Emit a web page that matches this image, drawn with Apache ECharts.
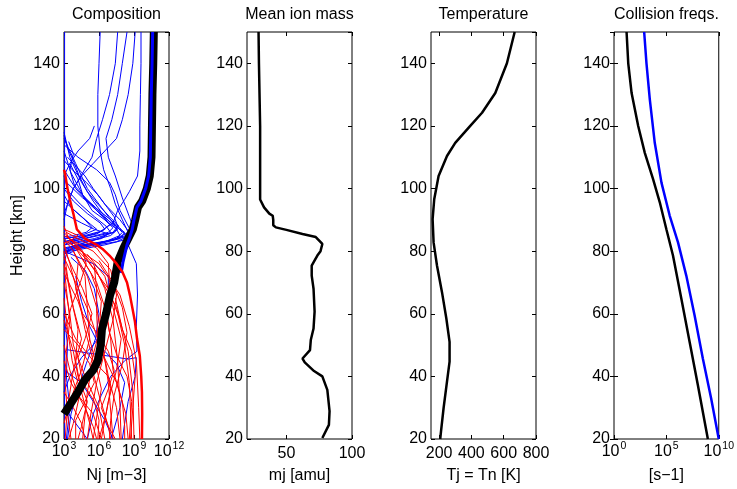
<!DOCTYPE html>
<html><head><meta charset="utf-8">
<script src="https://cdn.jsdelivr.net/npm/echarts@6/dist/echarts.min.js"></script>
<style>html,body{margin:0;padding:0;background:#fff}#c{width:737px;height:489px}</style>
</head><body><div id="c"></div>
<script>
// ---------- DATA ----------
const panelTitles = ['Composition', 'Mean ion mass', 'Temperature', 'Collision freqs.'];
const xNames = ['Nj [m\u22123]', 'mj [amu]', 'Tj = Tn [K]', '[s\u22121]'];
const heightRange = [20, 150];
const heightTickStep = 20;
const compExpTicks = [3, 6, 9, 12];        // log10 Nj tick exponents
const massTicks = [50, 100];
const tempTicks = [200, 400, 600, 800];
const collExpTicks = [0, 5, 10];          // log10 freq tick exponents

// Composition panel: [log10 Nj, height km]
const totalDensity = [[10.7,150],[10.65,140],[10.58,130],[10.54,120],[10.5,110],[10.35,104],[10.1,100],[9.7,96],[9.34,94],[9.1,90],[8.9,87],[8.5,84],[8.1,81],[7.6,76.6],[7.3,70],[6.94,65.8],[6.6,60],[6.25,55],[6.15,50],[5.9,45],[5.5,42],[4.8,39],[4.2,35],[3.35,30],[3.0,28]];
const electronDensity = [[10.6,150],[10.55,140],[10.48,130],[10.44,120],[10.4,110],[10.25,104],[10.0,100],[9.6,96],[9.25,94],[9.0,90],[8.85,87],[8.6,84],[8.4,82],[8.06,76.6],[7.9,73]];
const negIonEnvelope = [[3.0,106],[3.08,105],[3.3,100],[3.5,96.5],[3.8,92],[4.1,87],[4.8,84],[5.8,82],[6.3,80.7],[6.9,78.6],[7.5,76],[8.0,73.4],[8.4,70],[8.66,65.8],[9.08,57.5],[9.26,52],[9.5,46.5],[9.62,40],[9.68,35],[9.7,28],[9.68,20]];

const blueThinLines = [
  [[3.05,150],[3.05,20]],
  [[6.1,150],[6.0,140],[5.9,130],[5.9,120],[6.1,112],[6.4,106],[7.0,100],[7.4,95],[8.0,90],[8.5,86],[7.2,83.5],[5.0,82],[3.2,80],[3.0,79]],
  [[7.6,150],[7.4,140],[6.9,130],[6.3,122],[5.8,116],[5.4,110],[4.6,105],[3.8,100],[3.3,95],[3.0,90]],
  [[8.4,150],[8.0,140],[7.6,130],[7.1,122],[6.6,116],[6.8,110],[7.4,104],[8.0,97],[8.6,91],[9.0,87],[8.6,84],[6.5,82],[3.5,80],[3.0,79]],
  [[9.1,150],[8.9,140],[8.5,130],[8.0,122],[7.5,116],[6.5,112],[5.5,108],[4.5,104],[3.8,100],[3.3,95],[3.0,92]],
  [[9.6,150],[9.6,140],[9.55,130],[9.5,120],[9.5,112],[9.3,104],[8.6,99],[8.2,96.5],[7.6,93],[7.2,89],[6.0,86],[4.2,84],[3.0,83]],
  [[3.0,118],[3.5,110],[4.5,102],[5.5,96],[6.5,91],[7.5,87],[7.8,85],[6.5,83],[4.5,81],[3.2,79],[3.0,76]],
  [[3.0,116],[4.0,108],[5.0,100],[6.2,94],[7.2,89],[8.0,86],[7.5,84],[5.8,82.5],[3.8,81],[3.0,79]],
  [[3.0,112],[3.6,105],[4.6,98],[5.8,93],[6.8,89],[7.6,87],[7.0,85],[5.0,83],[3.3,81],[3.0,80]],
  [[3.3,110],[4.8,104],[5.5,100],[6.5,95],[7.8,90],[8.5,86.5],[8.2,84.5],[6.5,83],[4.5,82],[3.0,80]],
  [[3.0,106],[4.0,100],[5.2,95],[6.4,91],[7.4,88],[8.2,86],[7.8,84],[6.2,82.5],[4.0,81.5],[3.0,80.5]],
  [[3.0,104],[3.4,99],[4.4,95],[5.6,91],[6.6,88],[7.0,86],[6.0,84],[4.2,82],[3.0,81]],
  [[3.5,108],[4.2,103],[4.6,98],[5.4,93],[6.5,90],[7.2,87.5],[6.8,86],[5.2,84.5],[3.5,83],[3.0,82]],
  [[3.0,100],[3.8,96],[5.0,92],[6.1,89],[6.5,87],[5.8,85.5],[4.0,84],[3.0,83]],
  [[3.0,96],[4.2,92],[5.3,88.5],[5.8,87],[4.5,85],[3.2,84],[3.0,83.5]],
  [[3.0,114],[4.2,110],[5.8,106],[6.9,102],[7.4,98],[7.8,93],[8.5,88],[8.9,85.5],[7.5,83],[5.0,81.5],[3.0,80]],
  [[3.2,102],[4.6,97],[6.0,93],[7.0,90],[7.9,87],[8.3,85],[7.0,83.5],[5.5,82.5],[3.6,81.5]],
  [[3.0,92],[4.5,89],[5.6,87],[6.8,85.5],[6.2,84],[4.6,83],[3.0,82]],
  [[3.0,117],[3.3,113],[3.9,108],[4.3,104],[5.0,99],[5.9,95],[6.9,91],[7.7,88],[7.3,86],[5.6,84],[3.4,82.5]],
  [[3.4,115],[3.8,111],[3.5,106],[3.9,101],[4.8,97],[5.7,94],[6.4,91],[6.9,88.5],[6.3,86.5],[4.8,85],[3.0,84]],
  [[3.0,109],[3.7,106],[4.9,102],[5.9,98],[6.7,94],[7.3,91],[7.6,88],[7.2,86],[5.4,84.5],[3.6,83]],
  [[5.6,120],[5.2,116],[4.2,112],[3.5,108],[3.0,104]],
  [[3.0,98],[3.6,94],[4.8,90],[5.4,87.5],[4.9,86],[3.8,85],[3.0,84.5]],
  [[3.0,80],[5.5,76],[6.8,72],[6.8,62],[6.5,55],[5.5,50],[4.5,46],[3.5,40],[3.0,35]],
  [[8.5,82],[9.2,76],[9.3,66],[9.2,56],[9.25,48],[8.2,45],[7.0,40],[6.2,34],[5.5,28],[5.0,20]],
  [[3.3,48.5],[5.0,47.5],[6.8,46.5],[8.5,45.5],[9.2,46],[9.1,40],[8.5,32],[8.2,25],[8.0,20]],
  [[3.0,42],[4.5,38],[5.5,32],[6.5,26],[7.2,20]],
  [[3.0,30],[3.8,26],[4.6,22],[5.0,20]],
  [[4.0,72],[4.5,64],[5.2,56],[6.0,50],[7.5,44],[8.2,38],[7.8,30],[7.2,22],[7.0,20]],
  [[3.0,60],[3.3,50],[3.2,40],[3.5,30],[3.2,20]],
  [[3.6,78],[4.8,74],[5.6,68],[6.0,60],[5.7,52],[4.9,44],[4.2,36],[3.6,28],[3.3,20]]
];

const redThinLines = [
  [[3.0,86],[4.0,82],[5.5,76],[6.5,68],[7.2,58],[7.6,45],[7.8,30],[7.9,20]],
  [[3.0,84],[3.8,80],[5.0,72],[5.8,62],[6.3,50],[6.8,38],[7.2,20]],
  [[3.0,82],[3.5,76],[4.2,66],[4.8,55],[5.5,45],[5.0,35],[4.6,20]],
  [[3.0,80],[3.3,72],[3.8,62],[4.5,52],[3.8,42],[3.3,30],[3.1,20]],
  [[3.2,85],[4.5,80],[6.0,72],[7.5,62],[8.2,50],[8.6,38],[8.8,20]],
  [[3.0,78],[4.0,70],[5.2,60],[6.2,48],[7.5,38],[8.3,28],[8.5,20]],
  [[3.1,75],[3.6,65],[4.2,55],[4.0,45],[4.5,35],[5.2,25],[5.5,20]],
  [[3.0,70],[3.5,60],[3.8,50],[4.8,40],[6.0,30],[6.5,20]],
  [[3.5,83],[5.0,77],[6.8,68],[7.8,58],[8.5,48],[8.9,35],[9.0,20]],
  [[3.0,88],[3.4,84],[5.5,80],[7.0,74],[7.5,66],[7.2,58],[6.5,48],[5.8,38],[5.3,28],[5.0,20]],
  [[3.0,65],[3.3,55],[3.7,45],[4.4,35],[3.8,25],[3.4,20]],
  [[4.0,81],[5.3,73],[6.2,64],[6.0,54],[5.3,44],[6.0,34],[6.8,24],[7.0,20]],
  [[3.0,60],[4.0,52],[5.5,45],[6.8,40],[7.5,30],[7.8,20]],
  [[5.0,79],[6.5,72],[7.2,62],[7.9,52],[7.5,42],[6.8,32],[6.2,20]],
  [[3.3,83],[6.0,76],[7.8,66],[8.6,56],[9.2,45],[9.4,30],[9.5,20]],
  [[3.0,76],[3.2,68],[3.5,58],[3.2,48],[3.1,38],[3.3,28],[3.6,20]],
  [[3.0,73],[4.2,64],[5.0,55],[5.6,46],[6.2,36],[5.8,27],[5.5,20]],
  [[3.8,80],[4.8,72],[5.0,62],[5.2,52],[4.5,42],[3.5,32],[3.0,25]],
  [[6.0,77],[7.2,70],[8.0,62],[8.4,54],[8.0,44],[7.3,34],[7.0,26],[6.9,20]],
  [[4.5,78],[5.8,70],[6.5,62],[7.0,52],[7.2,42],[8.0,32],[8.2,24],[8.2,20]],
  [[3.0,58],[3.8,48],[4.2,40],[5.0,32],[4.5,24],[4.2,20]],
  [[3.0,50],[3.5,42],[4.2,34],[5.5,28],[6.2,20]],
  [[5.6,75],[5.8,68],[5.8,60],[5.9,52],[6.6,44],[7.0,36],[6.6,28],[6.0,20]],
  [[3.2,86],[4.2,84],[5.8,81],[6.8,76],[6.9,70],[6.6,62],[6.9,54],[7.6,46],[8.4,40],[8.8,32],[8.6,20]],
  [[3.0,45],[3.6,38],[4.8,30],[5.5,24],[5.8,20]],
  [[3.0,35],[3.8,30],[4.5,25],[4.8,20]],
  [[7.4,65],[8.0,55],[8.8,48],[9.1,40],[8.9,30],[8.7,20]],
  [[3.0,83],[3.2,79],[3.8,74],[4.6,68],[5.4,60],[4.8,52],[4.2,46],[4.6,38],[5.6,32],[6.0,26],[5.9,20]],
  [[3.0,87],[3.6,86],[4.2,85],[3.6,83.5],[3.0,82.5]],
  [[3.0,85],[3.9,83],[4.6,80],[4.9,76],[4.4,70],[3.6,62],[3.2,56]],
  [[4.2,76],[4.0,68],[4.6,60],[5.8,54],[6.8,48],[7.3,42],[6.8,36],[6.2,30],[6.8,24],[7.4,20]],
  [[3.0,55],[4.2,50],[5.2,44],[5.6,38],[4.8,32],[4.0,26],[4.0,20]]
];

// Mean ion mass: [amu, height km]
const meanIonMass = [[28.8,150],[29.1,140],[30,139.5],[30,120],[30,101],[30,96.5],[33,94],[37,92],[39.6,91.3],[40,90],[40,88.3],[42,87.6],[50,86.8],[62.3,85.5],[72.4,84.5],[77.4,82.3],[76,80],[73.6,78.6],[69.3,75.4],[69.3,72.2],[70.7,68],[71.5,60.7],[70.7,55.3],[68.6,51.6],[68,48.4],[62.3,45.7],[64,44.5],[71.1,41.7],[77.4,40],[81.2,35.7],[82.9,28.9],[82.4,24.5],[77.4,20.3]];
// Temperature: [K, height km]
const temperature = [[668,150],[620,140],[548,130.5],[466,124.2],[393,120],[300,114.6],[249,110.4],[197,104],[170,96.6],[160,90.2],[166,82.8],[187,75.4],[218,66.9],[245,58.5],[265,51],[265,44.7],[249,38.3],[228,29.9],[212,22.4],[207,20]];
// Collision frequencies: [log10 s^-1, height km]
const collIonNeutral = [[1.2,150],[1.36,140],[1.68,130.5],[2.31,120],[2.94,111.4],[3.73,103],[4.37,95.6],[5.0,87],[5.63,78.6],[6.43,64.8],[7.22,51],[8.0,37.3],[8.96,20]];
const collElectronNeutral = [[2.88,150],[3.1,140],[3.42,128.4],[3.89,114.6],[4.53,101.9],[5.32,91.3],[6.11,82.8],[6.9,72.2],[7.69,59.5],[8.48,45.7],[9.27,33],[10,20]];

// ---------- CHART ----------
const FONT = 'Liberation Sans, Arial, Helvetica, sans-serif';
const FS = 16;
const grids = [64, 247, 431, 614].map(l => ({left: l, top: 32, width: 105, height: 409, show: true, borderColor: '#000', borderWidth: 1, backgroundColor: 'transparent'}));
const supRich = {
  b: {fontSize: FS, fontFamily: FONT, color: '#000', lineHeight: 16, verticalAlign: 'bottom'},
  s: {fontSize: 10.5, fontFamily: FONT, color: '#000', lineHeight: 11, verticalAlign: 'bottom', padding: [0, 0, 8, 1]}
};
const powLabel = v => '{b|10}{s|' + v + '}';
const tick = {show: true, inside: true, length: 4, lineStyle: {color: '#000', width: 1}};
const xSpecs = [
  {min: 3, max: 12, interval: 3, label: {formatter: powLabel, rich: supRich, margin: 5}},
  {min: 20, max: 100, custom: massTicks},
  {min: 150, max: 800, custom: tempTicks},
  {min: 0, max: 10, interval: 5, label: {formatter: powLabel, rich: supRich, margin: 5}}
];
const xAxes = [], yAxes = [];
xSpecs.forEach((s, i) => {
  const base = {type: 'value', gridIndex: i, min: s.min, max: s.max, splitLine: {show: false}, axisLine: {show: false}};
  if (s.interval) base.interval = s.interval;
  const lab = Object.assign({show: true, color: '#000', fontSize: FS, fontFamily: FONT, margin: 7, showMinLabel: true, showMaxLabel: true}, s.label || {});
  const tk = Object.assign({}, tick);
  if (s.custom) { lab.customValues = s.custom; tk.customValues = s.custom; }
  xAxes.push(Object.assign({}, base, {position: 'bottom', axisLabel: lab, axisTick: tk,
    name: xNames[i], nameLocation: 'middle', nameGap: 29, nameTextStyle: {color: '#000', fontSize: FS, fontFamily: FONT}}));
  const tk2 = Object.assign({}, tick);
  if (s.custom) tk2.customValues = s.custom;
  xAxes.push(Object.assign({}, base, {position: 'top', axisLabel: {show: false}, axisTick: tk2}));
  const ybase = {type: 'value', gridIndex: i, min: heightRange[0], max: heightRange[1], interval: heightTickStep, splitLine: {show: false}, axisLine: {show: false}};
  yAxes.push(Object.assign({}, ybase, {position: 'left', axisTick: tick,
    axisLabel: {show: true, color: '#000', fontSize: FS, fontFamily: FONT, margin: 4, showMaxLabel: false},
    name: i === 0 ? 'Height [km]' : '', nameLocation: 'middle', nameGap: 38, nameTextStyle: {color: '#000', fontSize: FS, fontFamily: FONT}}));
  yAxes.push(Object.assign({}, ybase, {position: 'right', axisTick: tick, axisLabel: {show: false}}));
});

const series = [];
function addLine(data, gi, color, width, z) {
  series.push({type: 'line', xAxisIndex: gi * 2, yAxisIndex: gi * 2, data: data, showSymbol: false, symbol: 'none',
    lineStyle: {color: color, width: width}, z: z, silent: true, animation: false, clip: true});
}
blueThinLines.forEach(l => addLine(l, 0, '#0000ff', 1, 2));
redThinLines.forEach(l => addLine(l, 0, '#ff0000', 1, 3));
addLine(totalDensity, 0, '#000', 8, 4);
addLine(electronDensity, 0, '#0000ff', 3, 5);
addLine(negIonEnvelope, 0, '#ff0000', 2.5, 6);
addLine(meanIonMass, 1, '#000', 2.5, 4);
addLine(temperature, 2, '#000', 2.5, 4);
addLine(collIonNeutral, 3, '#000', 2.5, 4);
addLine(collElectronNeutral, 3, '#0000ff', 2.5, 5);

const graphics = panelTitles.map((t, i) => ({
  type: 'text', x: grids[i].left + grids[i].width / 2, y: 15,
  style: {text: t, fill: '#000', font: FS + 'px ' + FONT, textAlign: 'center', textVerticalAlign: 'middle'}
}));

const chart = echarts.init(document.getElementById('c'), null, {renderer: 'canvas'});
chart.setOption({
  animation: false,
  backgroundColor: '#fff',
  grid: grids,
  xAxis: xAxes,
  yAxis: yAxes,
  series: series,
  graphic: graphics
});
</script></body></html>
